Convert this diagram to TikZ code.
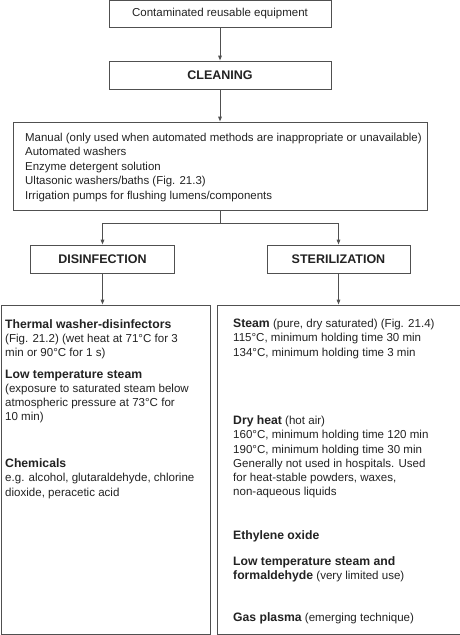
\documentclass[tikz,border=0pt]{standalone}
\usepackage{fontspec}
\setmainfont{Liberation Sans}
\usetikzlibrary{arrows.meta}
\definecolor{linec}{HTML}{505050}
\definecolor{textc}{HTML}{222222}
\newcommand{\bhead}[1]{{\fontsize{12.2}{14.2}\selectfont\bfseries #1}}
\tikzset{
  box/.style={draw=linec, line width=1pt, rectangle, inner sep=0pt, text=textc},
  head/.style={box, font=\fontsize{12.5}{14.2}\selectfont\bfseries},
  txt/.style={anchor=north west, inner sep=0pt, align=left, text=textc, font=\fontsize{11.55}{14.2}\selectfont},
  arr/.style={draw=linec, line width=1pt, -{Triangle[length=5pt,width=3.6pt]}},
  conn/.style={draw=linec, line width=1pt}
}
\begin{document}
\begin{tikzpicture}[x=1pt,y=-1pt]
\useasboundingbox (0,0) rectangle (460,635);
% boxes
\node[box, minimum width=222pt, minimum height=27pt, font=\fontsize{11.5}{14.2}\selectfont] (start) at (220,13.5) {Contaminated reusable equipment};
\node[head, minimum width=222pt, minimum height=28pt] (clean) at (220,75) {CLEANING};
\node[box, minimum width=414pt, minimum height=88pt] (methods) at (220,166) {};
\node[head, minimum width=144pt, minimum height=28pt] (dis) at (102.5,259) {DISINFECTION};
\node[head, minimum width=143pt, minimum height=28pt] (ster) at (338.5,259) {STERILIZATION};
\node[box, minimum width=209pt, minimum height=329pt] (dbox) at (105.5,469.5) {};
\node[box, minimum width=244pt, minimum height=329pt] (sbox) at (339,469.5) {};
% connectors
\draw[arr] (start.south) -- (clean.north);
\draw[arr] (clean.south) -- (methods.north);
\coordinate (split) at (220,223);
\draw[conn] (methods.south) -- (split);
\draw[arr] (split) -| (dis.north);
\draw[arr] (split) -| (ster.north);
\draw[arr] (dis.south) -- (dis.south |- dbox.north);
\draw[arr] (ster.south) -- (ster.south |- sbox.north);
% cleaning methods text
\node[txt, font=\fontsize{11.45}{14.5}\selectfont] (mtext) at (25,132.7) {Manual (only used when automated methods are inappropriate or unavailable)\\Automated washers\\Enzyme detergent solution\\Ultasonic washers/baths (Fig. 21.3)\\Irrigation pumps for flushing lumens/components};
% disinfection text
\node[txt] (d1) at (5,319) {\bhead{Thermal washer-disinfectors}\\(Fig. 21.2) (wet heat at 71°C for 3\\min or 90°C for 1 s)};
\node[txt] (d2) at (5,369.7) {\bhead{Low temperature steam}\\(exposure to saturated steam below\\atmospheric pressure at 73°C for\\10 min)};
\node[txt] (d3) at (5,458.7) {\bhead{Chemicals}\\e.g. alcohol, glutaraldehyde, chlorine\\dioxide, peracetic acid};
% sterilization text
\node[txt] (s1) at (233,319) {\bhead{Steam} (pure, dry saturated) (Fig. 21.4)\\115°C, minimum holding time 30 min\\134°C, minimum holding time 3 min};
\node[txt] (s2) at (233,415.7) {\bhead{Dry heat} (hot air)\\160°C, minimum holding time 120 min\\190°C, minimum holding time 30 min\\Generally not used in hospitals. Used\\for heat-stable powders, waxes,\\non-aqueous liquids};
\node[txt] (s3) at (233,530.7) {\bhead{Ethylene oxide}};
\node[txt] (s4) at (233,556.7) {\bhead{Low temperature steam and}\\\bhead{formaldehyde} (very limited use)};
\node[txt] (s5) at (233,612.7) {\bhead{Gas plasma} (emerging technique)};
\end{tikzpicture}
\end{document}
